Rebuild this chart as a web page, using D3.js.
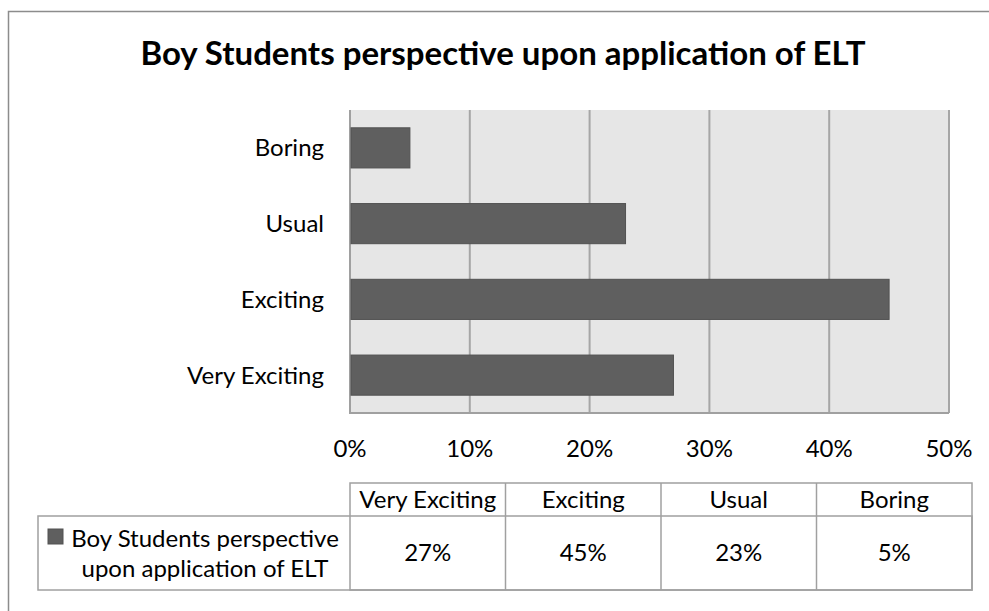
<!DOCTYPE html>
<html>
<head>
  <meta charset="utf-8">
  <title>Boy Students perspective upon application of ELT</title>
  <script src="https://d3js.org/d3.v7.min.js"></script>
  <style>
    body { margin: 0; background: #fff; }
    svg text { font-family: Lato, "Open Sans", sans-serif; fill: #000; }
  </style>
</head>
<body>
  <script>
    // data, in table order (left to right)
    var categories = ["Very Exciting", "Exciting", "Usual", "Boring"];
    var values = [27, 45, 23, 5];
    var seriesLines = ["Boy Students perspective", "upon application of ELT"];
    var xTicks = [0, 10, 20, 30, 40, 50];
    var title = "Boy Students perspective upon application of ELT";

    var w = 989, h = 611;
    var plot = {left: 350, right: 949, top: 110, bottom: 413};
    var tbl = {left: 350, right: 972, top: 483, mid: 516, bottom: 590, legendLeft: 38};
    var barFill = "#5f5f5f", gridColor = "#a6a6a6", lineColor = "#a0a0a0";
    var fs = 24;

    var svg = d3.select("body").append("svg")
      .attr("width", w).attr("height", h);

    // outer chart border (runs off the right and bottom edge)
    svg.append("rect")
      .attr("x", 8.5).attr("y", 11.5)
      .attr("width", 1000).attr("height", 640)
      .attr("fill", "#fff").attr("stroke", "#8c8c8c").attr("stroke-width", 1.5);

    svg.append("text")
      .attr("x", 503).attr("y", 65)
      .attr("text-anchor", "middle")
      .attr("font-size", 33).attr("font-weight", "bold")
      .text(title);

    var x = d3.scaleLinear().domain([0, 50]).range([plot.left, plot.right]);
    // bars run bottom-up in table order
    var y = d3.scaleBand()
      .domain(categories.slice().reverse())
      .range([plot.top, plot.bottom])
      .paddingInner(0.47).paddingOuter(0.235);

    svg.append("rect")
      .attr("x", plot.left).attr("y", plot.top)
      .attr("width", plot.right - plot.left).attr("height", plot.bottom - plot.top)
      .attr("fill", "#e6e6e6");

    svg.selectAll(".grid")
      .data(xTicks.slice(1))
      .enter().append("line")
      .attr("x1", function(d){ return x(d); })
      .attr("x2", function(d){ return x(d); })
      .attr("y1", plot.top).attr("y2", plot.bottom)
      .attr("stroke", gridColor).attr("stroke-width", 2);

    svg.append("path")
      .attr("d", "M" + plot.left + "," + plot.top + "V" + plot.bottom + "H" + plot.right)
      .attr("fill", "none").attr("stroke", lineColor).attr("stroke-width", 2);

    svg.selectAll(".bar")
      .data(categories)
      .enter().append("rect")
      .attr("x", plot.left + 1)
      .attr("y", function(d){ return y(d); })
      .attr("width", function(d, i){ return x(values[i]) - plot.left - 1; })
      .attr("height", y.bandwidth())
      .attr("fill", barFill).attr("stroke", "#525252").attr("stroke-width", 1);

    // category labels
    svg.selectAll(".cat")
      .data(categories)
      .enter().append("text")
      .attr("x", 324)
      .attr("y", function(d){ return y(d) + y.bandwidth() / 2; })
      .attr("dy", "0.35em")
      .attr("text-anchor", "end")
      .attr("font-size", fs)
      .text(function(d){ return d; });

    // x tick labels
    svg.selectAll(".tick")
      .data(xTicks)
      .enter().append("text")
      .attr("x", function(d){ return x(d); })
      .attr("y", 457)
      .attr("text-anchor", "middle")
      .attr("font-size", fs)
      .text(function(d){ return d + "%"; });

    // data table
    var col = d3.scaleBand().domain(categories).range([tbl.left, tbl.right]);
    var g = svg.append("g").attr("fill", "none").attr("stroke", lineColor).attr("stroke-width", 1.5);
    g.append("rect")
      .attr("x", tbl.left).attr("y", tbl.top)
      .attr("width", tbl.right - tbl.left).attr("height", tbl.bottom - tbl.top);
    g.append("rect")
      .attr("x", tbl.legendLeft).attr("y", tbl.mid)
      .attr("width", tbl.right - tbl.legendLeft).attr("height", tbl.bottom - tbl.mid);
    g.selectAll(".vline")
      .data(categories.slice(1))
      .enter().append("line")
      .attr("x1", function(d){ return col(d); })
      .attr("x2", function(d){ return col(d); })
      .attr("y1", tbl.top).attr("y2", tbl.bottom);

    svg.selectAll(".head")
      .data(categories)
      .enter().append("text")
      .attr("x", function(d){ return col(d) + col.bandwidth() / 2; })
      .attr("y", 508)
      .attr("text-anchor", "middle")
      .attr("font-size", fs)
      .text(function(d){ return d; });

    svg.selectAll(".val")
      .data(values)
      .enter().append("text")
      .attr("x", function(d, i){ return col(categories[i]) + col.bandwidth() / 2; })
      .attr("y", 561)
      .attr("text-anchor", "middle")
      .attr("font-size", fs)
      .text(function(d){ return d + "%"; });

    // legend cell
    svg.append("rect")
      .attr("x", 48).attr("y", 529).attr("width", 15).attr("height", 15)
      .attr("fill", barFill).attr("stroke", "#525252");
    svg.selectAll(".leg")
      .data(seriesLines)
      .enter().append("text")
      .attr("x", 205)
      .attr("y", function(d, i){ return 547 + i * 30; })
      .attr("text-anchor", "middle").attr("font-size", fs)
      .text(function(d){ return d; });
  </script>
</body>
</html>
